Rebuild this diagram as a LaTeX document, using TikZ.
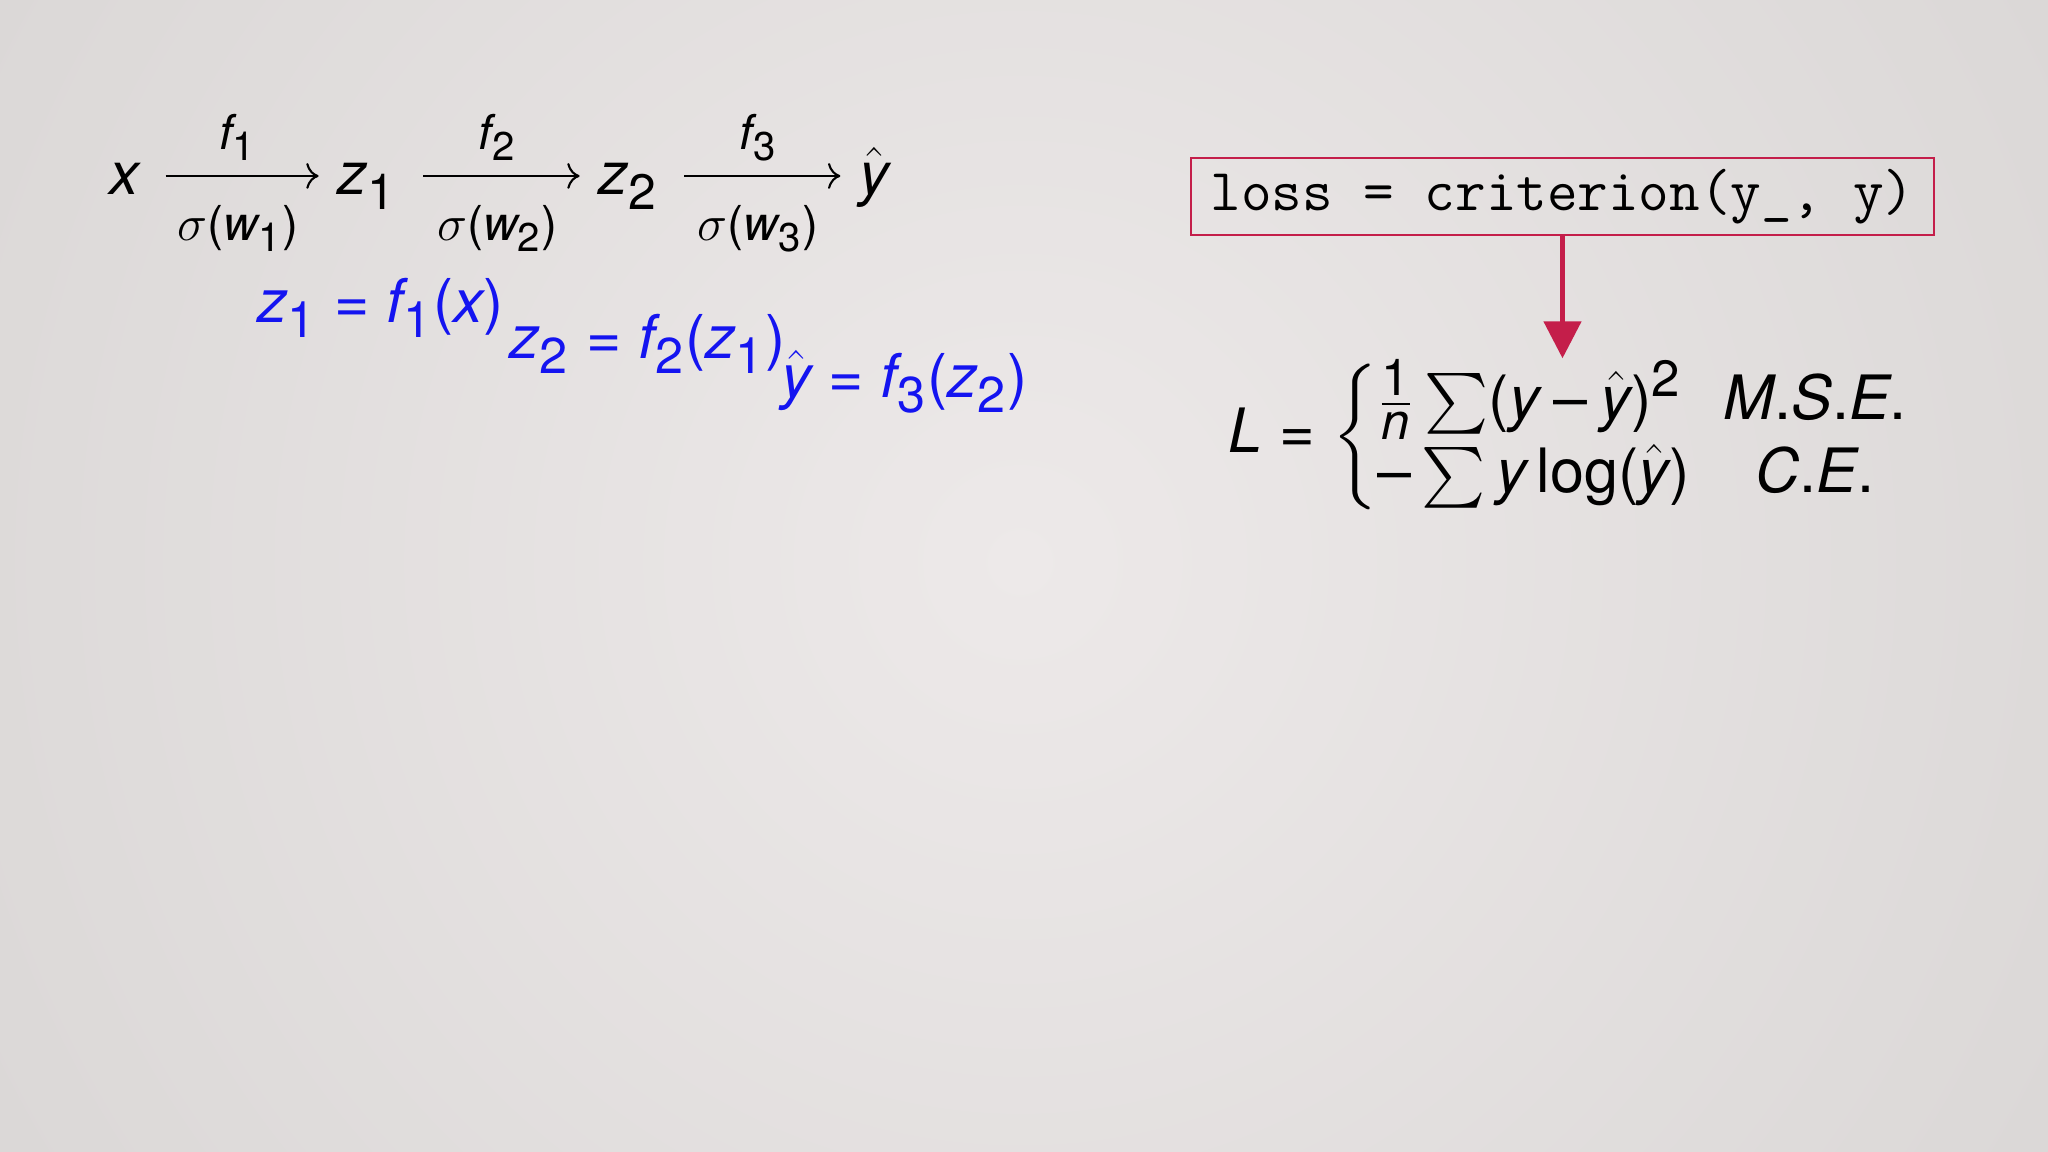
\documentclass[tikz,border=0pt]{standalone}
\usepackage{amsmath}
\usepackage[no-math]{fontspec}
\setmainfont{TeX Gyre Heros}
\usepackage[italic]{mathastext}
\usetikzlibrary{arrows.meta}
\usetikzlibrary{math}

\definecolor{lossred}{RGB}{196,30,74}
\definecolor{bginner}{RGB}{237,233,233}
\definecolor{bgouter}{RGB}{200,198,196}
\definecolor{eqblue}{RGB}{20,20,240}

\tikzset{
    chainsym/.style={font=\fontsize{17}{20}\selectfont, inner sep=0pt, anchor=base},
    chainarrow/.style={black, line width=0.6pt, -{To[scale=1.2]}, shorten <=0.26cm, shorten >=0.18cm},
    chainlbl/.style={font=\fontsize{13.7}{16}\selectfont, inner sep=0pt, anchor=base},
    blueeq/.style={font=\fontsize{17.2}{20}\selectfont, text=eqblue, inner sep=0pt, anchor=base west},
    codebox/.style={draw=lossred, line width=0.6pt, minimum width=7.43cm, minimum height=0.77cm,
        inner sep=0pt, font=\ttfamily\fontsize{16.9}{19}\selectfont},
    lossform/.style={font=\fontsize{17.4}{21}\selectfont, inner sep=0pt, anchor=west},
    lossarrow/.style={lossred, line width=1.4pt, -{Triangle[width=0.37cm, length=0.37cm]}},
}

\begin{document}
\begin{tikzpicture}

% Position settings
\tikzmath{
    \W = 20.48;
    \H = 11.52;
    \ChainY = 9.57;
    \Axis = 0.19;
}

% Background
\useasboundingbox (0,0) rectangle (\W,\H);
\begin{scope}
    \clip (0,0) rectangle (\W,\H);
    \fill [bgouter] (0,0) rectangle (\W,\H);
    \shade [inner color=bginner, outer color=bgouter] (10.2,5.9) circle (24);
\end{scope}

% Forward chain
\node [chainsym] (x) at (1.24,\ChainY) {$x$};
\node [chainsym] (z1) at (3.67,\ChainY) {$z_1$};
\node [chainsym] (z2) at (6.28,\ChainY) {$z_2$};
\node [chainsym] (yhat) at (8.74,\ChainY) {$\hat{y}$};

\draw [chainarrow] ([yshift=\Axis cm]x.base east) -- node [chainlbl, yshift=0.26cm] (f1) {$f_1$}
    node [chainlbl, yshift=-0.65cm] (s1) {$\sigma(w_1)$} ([yshift=\Axis cm]z1.base west);
\draw [chainarrow] ([yshift=\Axis cm]z1.base east) -- node [chainlbl, yshift=0.26cm] (f2) {$f_2$}
    node [chainlbl, yshift=-0.65cm] (s2) {$\sigma(w_2)$} ([yshift=\Axis cm]z2.base west);
\draw [chainarrow] ([yshift=\Axis cm]z2.base east) -- node [chainlbl, yshift=0.26cm] (f3) {$f_3$}
    node [chainlbl, yshift=-0.65cm] (s3) {$\sigma(w_3)$} ([yshift=\Axis cm]yhat.base west);

% Layer outputs
\node [blueeq] (eqa) at (2.57,8.29) {$z_1 = f_1(x)$};
\node [blueeq] (eqb) at (5.09,7.93) {$z_2 = f_2(z_1)$};
\node [blueeq] (eqc) at (7.81,7.54) {$\hat{y} = f_3(z_2)$};

% Loss
\node [codebox] (loss) at (15.625,9.555) {loss = criterion(y\_, y)};
\node [lossform] (crit) at (12.28,7.15) {$L = \left\{\renewcommand{\arraystretch}{1.0}%
    \begin{array}{@{}l@{\hspace{0.55em}}c@{}}
    \tfrac{1}{n}\sum(y-\hat{y})^2 & M.S.E.\\
    -\sum y\log(\hat{y}) & C.E.
    \end{array}\right.$};
\draw [lossarrow] (loss.south) -- (loss.south |- crit.north);

\end{tikzpicture}
\end{document}
